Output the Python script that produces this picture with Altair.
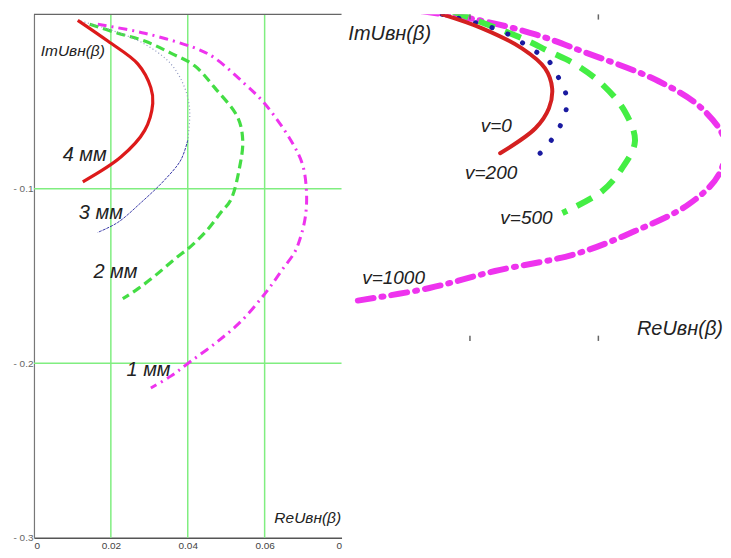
import altair as alt
import pandas as pd

# ---------------- left panel (thickness curves) ----------------
mm4_re = [0.0114, 0.0192, 0.0270, 0.0304, 0.0309, 0.0288, 0.0226, 0.0127]
mm4_im = [-0.0034, -0.0153, -0.0284, -0.042, -0.051, -0.0665, -0.0818, -0.096]

mm3_re = [0.0114, 0.0210, 0.0288, 0.0356, 0.0392, 0.0405, 0.0400, 0.0382, 0.0340, 0.0278, 0.0218, 0.0166]
mm3_im = [-0.0034, -0.0097, -0.017, -0.0284, -0.042, -0.0551, -0.0722, -0.0835, -0.0949, -0.108, -0.1193, -0.125]

mm2_re = [0.0145, 0.0218, 0.0288, 0.0356, 0.0418, 0.0470, 0.0530, 0.0543, 0.0535, 0.0512, 0.0486,
          0.0452, 0.0408, 0.0366, 0.0314, 0.0270, 0.0231]
mm2_im = [-0.0057, -0.0108, -0.0153, -0.0222, -0.0295, -0.042, -0.0591, -0.0722, -0.0875, -0.1063, -0.1136,
          -0.1233, -0.133, -0.1403, -0.150, -0.1574, -0.163]

mm1_re = [0.0166, 0.0288, 0.0426, 0.0470, 0.0548, 0.0600, 0.0668, 0.0699, 0.0709, 0.0706, 0.0694, 0.0678,
          0.0647, 0.0616, 0.0590, 0.0538, 0.0478, 0.0408, 0.0356, 0.0304]
mm1_im = [-0.0057, -0.0108, -0.0199, -0.025, -0.0398, -0.0511, -0.0722, -0.0864, -0.1028, -0.1159, -0.1273,
          -0.1364, -0.146, -0.1557, -0.1631, -0.1761, -0.1875, -0.1989, -0.2074, -0.2142]

left_x_ticks = [0, 0.02, 0.04, 0.06, 0.08]
left_y_ticks = [-0.1, -0.2, -0.3]
grid_x = [0.02, 0.04, 0.06]
grid_y = [-0.1, -0.2]

left_labels = ["ImUвн(β)", "4 мм", "3 мм", "2 мм", "1 мм", "ReUвн(β)"]
left_label_re = [0.0101, 0.0132, 0.0174, 0.0212, 0.0298, 0.0712]
left_label_im = [-0.021, -0.0807, -0.1136, -0.1477, -0.204, -0.289]
left_label_big = [False, True, True, True, True, False]

# ---------------- right panel (speed curves) ----------------
v0_re = [0.0157, 0.0219, 0.0281, 0.0317, 0.0328, 0.0323, 0.0302, 0.0247]
v0_im = [0.0, -0.0107, -0.026, -0.0413, -0.0566, -0.0719, -0.0872, -0.1063]

v200_re = [0.0157, 0.0250, 0.0297, 0.0323, 0.0340, 0.0351, 0.0348, 0.0336, 0.0317, 0.0292]
v200_im = [0.0, -0.013, -0.0268, -0.0359, -0.0505, -0.0642, -0.0765, -0.0894, -0.1024, -0.1139]

v500_re = [0.0173, 0.0281, 0.0323, 0.0364, 0.0406, 0.0441, 0.0457, 0.0437, 0.0406, 0.0344]
v500_im = [0.0023, -0.0183, -0.0283, -0.0382, -0.0535, -0.0742, -0.0971, -0.1177, -0.1353, -0.1521]

v1000_re = [0.0126, 0.0208, 0.0302, 0.0375, 0.0494, 0.0561, 0.0597, 0.0588, 0.0541, 0.0457, 0.0364, 0.0239, 0.0137, 0.0022]
v1000_im = [0.0023, -0.0038, -0.0153, -0.0283, -0.0512, -0.0719, -0.0971, -0.1223, -0.1453, -0.1659, -0.1835, -0.1965, -0.2095, -0.2194]

right_tick_x = [0.02, 0.04]
right_labels = ["ImUвн(β)", "v=0", "v=200", "v=500", "v=1000", "ReUвн(β)"]
right_label_re = [0.0075, 0.0241, 0.0233, 0.0288, 0.0081, 0.0527]
right_label_im = [-0.0153, -0.0856, -0.1216, -0.156, -0.2018, -0.2408]
right_label_big = [True, False, False, False, False, True]

FONT = "Liberation Sans"


def curve_df(re, im):
    return pd.DataFrame({"re": re, "im": im, "i": list(range(len(re)))})


# ---------------- left chart ----------------
lx = alt.Scale(domain=[0, 0.08], nice=False, zero=False)
ly = alt.Scale(domain=[-0.3, 0], nice=False, zero=False)

x_axis = alt.Axis(values=left_x_ticks, grid=False, ticks=False, title=None,
                  labelExpr="datum.value >= 0.079 || datum.value == 0 ? '0' : format(datum.value, '.2f')",
                  labelFont=FONT, labelFontSize=10, labelColor="#444",
                  domainColor="#555", domainWidth=1.5, labelPadding=3)
y_axis = alt.Axis(values=left_y_ticks, grid=False, ticks=False, title=None,
                  labelExpr="'- ' + format(-datum.value, '.1f')",
                  labelFont=FONT, labelFontSize=10, labelColor="#666",
                  domainColor="#777", domainWidth=1.2, labelPadding=1)

gx = alt.Chart(pd.DataFrame({"g": grid_x})).mark_rule(color="#80ee80", strokeWidth=1.5).encode(
    x=alt.X("g:Q", scale=lx, axis=x_axis))
gy = alt.Chart(pd.DataFrame({"g": grid_y})).mark_rule(color="#80ee80", strokeWidth=1.5).encode(
    y=alt.Y("g:Q", scale=ly, axis=y_axis))
top_border = alt.Chart(pd.DataFrame({"a": [0], "b": [0.08], "c": [0]})).mark_rule(
    color="#666", strokeWidth=1.2).encode(
    x=alt.X("a:Q", scale=lx), x2="b:Q", y=alt.Y("c:Q", scale=ly))


def left_line(df, **style):
    return alt.Chart(df).mark_line(interpolate="catmull-rom", **style).encode(
        x=alt.X("re:Q", scale=lx), y=alt.Y("im:Q", scale=ly), order="i:Q")


mm3_df = curve_df(mm3_re, mm3_im)
l1 = left_line(curve_df(mm1_re, mm1_im), color="#ee33ee", strokeWidth=3, strokeDash=[9, 5, 2, 5])
l2 = left_line(curve_df(mm2_re, mm2_im), color="#44dd44", strokeWidth=3.2, strokeDash=[9, 5])
l3a = left_line(mm3_df[mm3_df.i <= 6], color="#9098c0", strokeWidth=1.2, strokeDash=[1, 2.5])
l3b = left_line(mm3_df[mm3_df.i >= 6], color="#3a3aa8", strokeWidth=1, strokeDash=[3, 1])
l4 = left_line(curve_df(mm4_re, mm4_im), color="#dd1a1a", strokeWidth=3.2)

ltext_df = pd.DataFrame({"t": left_labels, "re": left_label_re, "im": left_label_im, "big": left_label_big})
lt_small = alt.Chart(ltext_df[~ltext_df.big]).mark_text(
    font=FONT, fontStyle="italic", fontSize=15.5, color="#222", align="center", baseline="middle").encode(
    x=alt.X("re:Q", scale=lx), y=alt.Y("im:Q", scale=ly), text="t:N")
lt_big = alt.Chart(ltext_df[ltext_df.big]).mark_text(
    font=FONT, fontStyle="italic", fontSize=20, color="#222", align="center", baseline="middle").encode(
    x=alt.X("re:Q", scale=lx), y=alt.Y("im:Q", scale=ly), text="t:N")

left = alt.layer(gx, gy, top_border, l1, l2, l3a, l3b, l4, lt_small, lt_big).properties(width=308, height=524)

# ---------------- right chart ----------------
rx = alt.Scale(domain=[0, 0.0591], nice=False, zero=False)
ry = alt.Scale(domain=[-0.25, 0], nice=False, zero=False)


def right_line(re, im, **style):
    return alt.Chart(curve_df(re, im)).mark_line(interpolate="catmull-rom", clip=True, **style).encode(
        x=alt.X("re:Q", scale=rx, axis=None), y=alt.Y("im:Q", scale=ry, axis=None), order="i:Q")


r1000 = right_line(v1000_re, v1000_im, color="#ee33ee", strokeWidth=6,
                   strokeDash=[16, 8, 2, 8], strokeCap="round")
r500 = right_line(v500_re, v500_im, color="#44ee44", strokeWidth=6, strokeDash=[17, 11])
r200 = right_line(v200_re, v200_im, color="#1a1aa0", strokeWidth=5, strokeDash=[0.1, 17],
                  strokeCap="round")
r0 = right_line(v0_re, v0_im, color="#d42020", strokeWidth=4, strokeCap="round")

tick_df = pd.DataFrame({"x": right_tick_x * 2,
                        "y0": [0.0, 0.0, -0.25, -0.25],
                        "y1": [-0.004, -0.004, -0.246, -0.246]})
edge_ticks = alt.Chart(tick_df).mark_rule(color="#666", strokeWidth=1.5).encode(
    x=alt.X("x:Q", scale=rx, axis=None), y=alt.Y("y0:Q", scale=ry, axis=None), y2="y1:Q")

rtext_df = pd.DataFrame({"t": right_labels, "re": right_label_re, "im": right_label_im, "big": right_label_big})
rt_small = alt.Chart(rtext_df[~rtext_df.big]).mark_text(
    font=FONT, fontStyle="italic", fontSize=19, color="#222", align="center", baseline="middle").encode(
    x=alt.X("re:Q", scale=rx, axis=None), y=alt.Y("im:Q", scale=ry, axis=None), text="t:N")
rt_big = alt.Chart(rtext_df[rtext_df.big]).mark_text(
    font=FONT, fontStyle="italic", fontSize=20, color="#222", align="center", baseline="middle").encode(
    x=alt.X("re:Q", scale=rx, axis=None), y=alt.Y("im:Q", scale=ry, axis=None), text="t:N")

right = alt.layer(r1000, r500, r200, r0, edge_ticks, rt_small, rt_big).properties(width=380, height=327)

chart = alt.hconcat(left, right, spacing=0, bounds="flush").properties(
    padding={"left": 4, "top": 5, "right": 0, "bottom": 0},
    background="white",
).configure_view(stroke=None)

chart.save("out.html", embed_options={"renderer": "svg", "actions": False})
